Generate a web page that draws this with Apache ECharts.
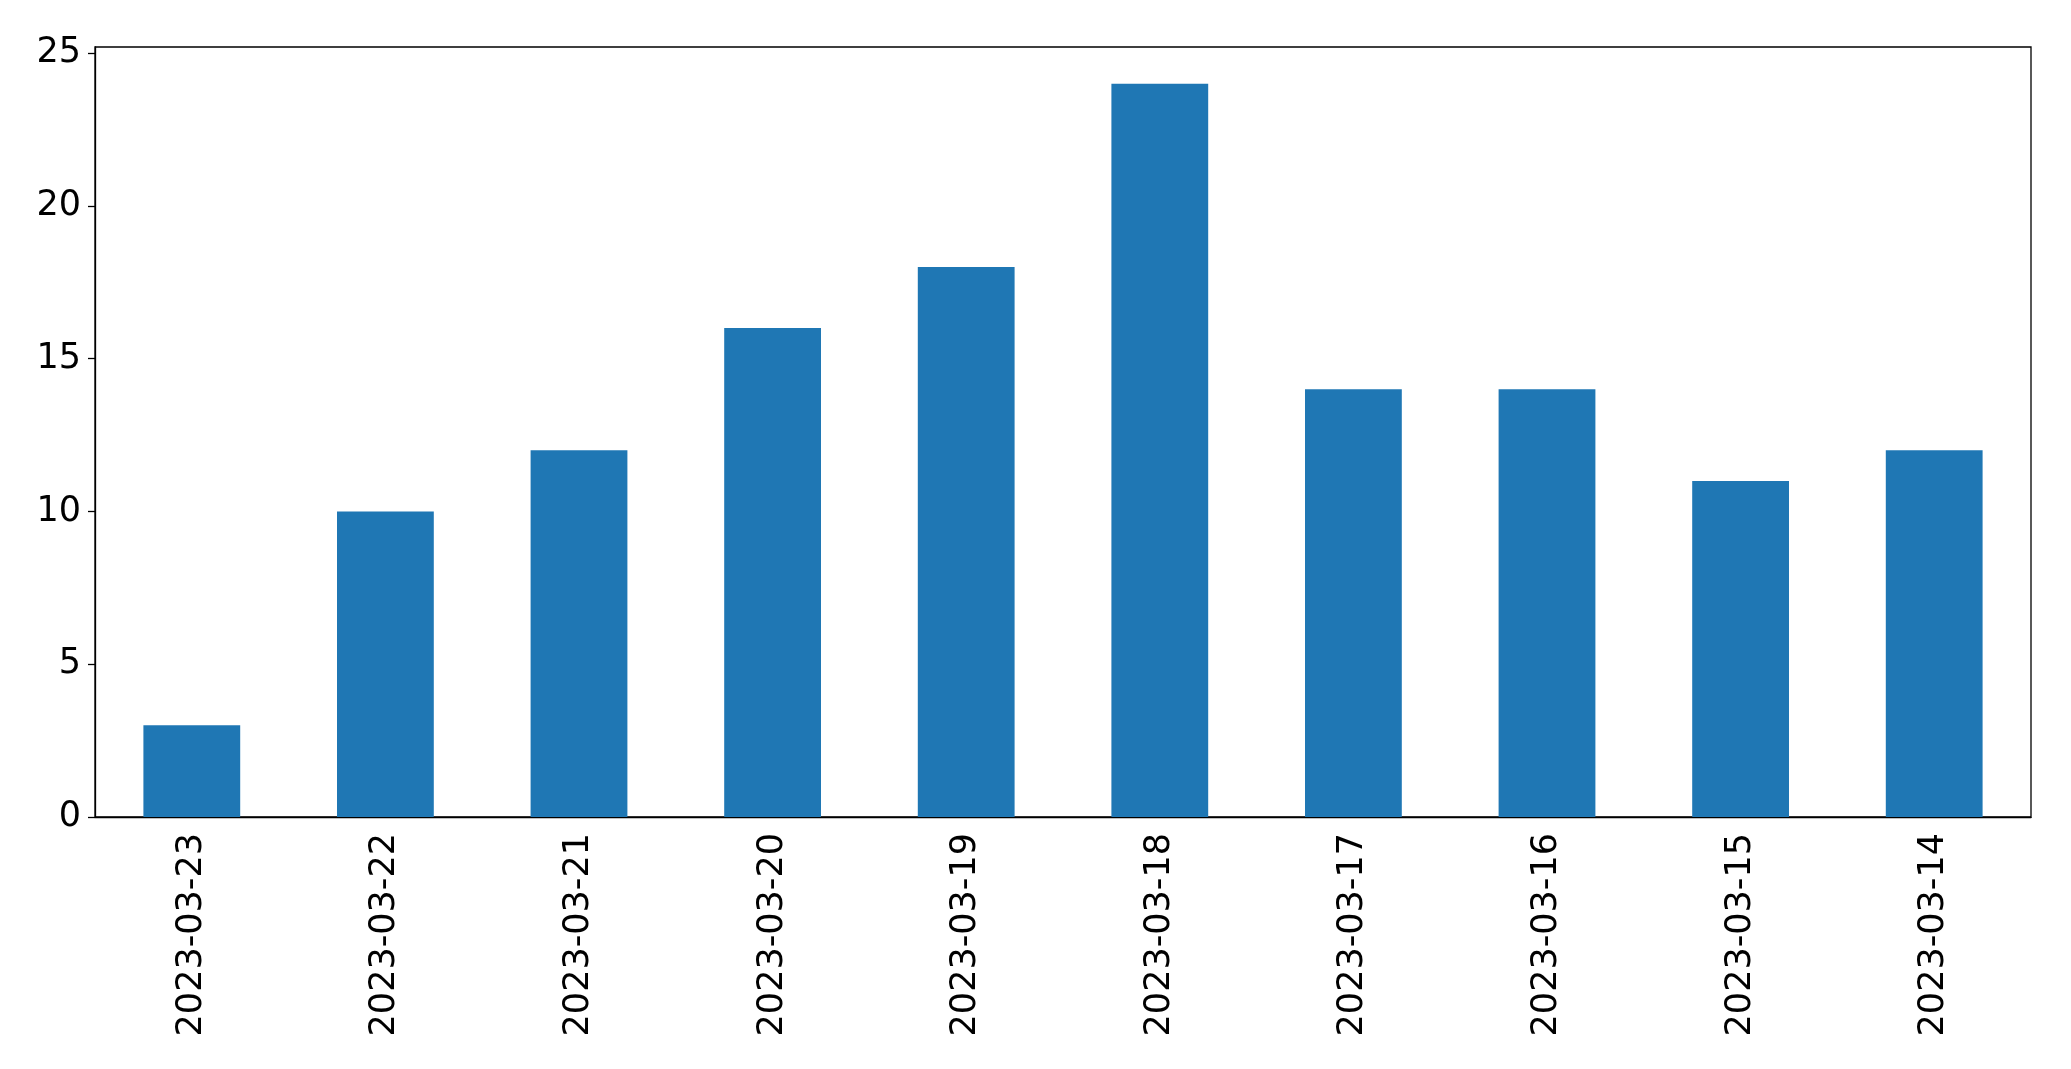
<!DOCTYPE html>
<html>
<head>
<meta charset="utf-8">
<script src="https://cdn.jsdelivr.net/npm/echarts@6/dist/echarts.min.js"></script>
<style>
    html, body { margin: 0; padding: 0; background: #fff; }
    #chart { width: 2071px; height: 1069px; }
</style>
</head>
<body>
<div id="chart"></div>
<script>
const dates = ["2023-03-23", "2023-03-22", "2023-03-21", "2023-03-20", "2023-03-19",
    "2023-03-18", "2023-03-17", "2023-03-16", "2023-03-15", "2023-03-14"];
const counts = [3, 10, 12, 16, 18, 24, 14, 14, 11, 12];
const yTicks = [0, 5, 10, 15, 20, 25];

const chart = echarts.init(document.getElementById("chart"));
const font = "DejaVu Sans";

chart.setOption({
    animation: false,
    backgroundColor: "#fff",
    grid: {
        left: 95,
        right: 40,
        top: 47,
        bottom: 252,
        show: true,
        borderColor: "#000",
        borderWidth: 1.3,
    },
    xAxis: {
        type: "category",
        data: dates,
        axisLine: { lineStyle: { color: "#000", width: 1.3 } },
        axisTick: { alignWithLabel: true, length: 7, lineStyle: { color: "#000", width: 1.3 } },
        axisLabel: {
            rotate: 90,
            margin: 16,
            color: "#000",
            fontFamily: font,
            fontSize: 35,
            interval: 0,
        },
    },
    yAxis: {
        type: "value",
        min: 0,
        max: 25.2,
        interval: 5,
        splitLine: { show: false },
        axisLine: { show: true, lineStyle: { color: "#000", width: 1.3 } },
        axisTick: { show: true, length: 7, customValues: yTicks, lineStyle: { color: "#000", width: 1.3 } },
        axisLabel: {
            margin: 14,
            color: "#000",
            fontFamily: font,
            fontSize: 35,
            customValues: yTicks,
        },
    },
    series: [
        {
            type: "bar",
            data: counts,
            barWidth: "50%",
            itemStyle: { color: "#1f77b4" },
        },
    ],
});
</script>
</body>
</html>
